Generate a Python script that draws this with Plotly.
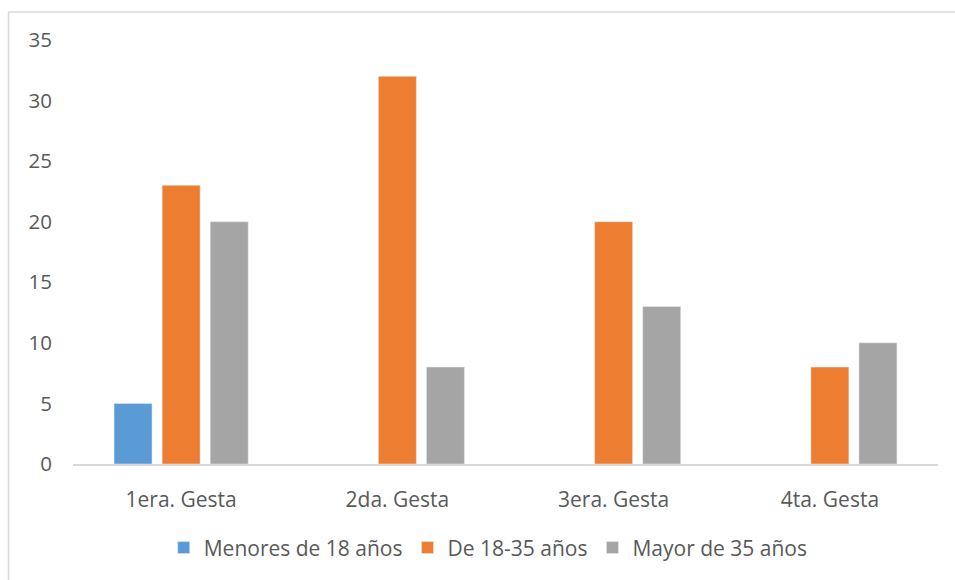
import plotly.graph_objects as go

categories = ["1era. Gesta", "2da. Gesta", "3era. Gesta", "4ta. Gesta"]
menores_18 = [5, None, None, None]
de_18_35 = [23, 32, 20, 8]
mayor_35 = [20, 8, 13, 10]
y_ticks = [0, 5, 10, 15, 20, 25, 30, 35]

FONT = "Open Sans"
TXT = "#595959"

fig = go.Figure()
fig.add_trace(go.Bar(name="Menores de 18 años", x=categories, y=menores_18, marker_color="#5B9BD5"))
fig.add_trace(go.Bar(name="De 18-35 años", x=categories, y=de_18_35, marker_color="#ED7D31"))
fig.add_trace(go.Bar(name="Mayor de 35 años", x=categories, y=mayor_35, marker_color="#A5A5A5"))

L, R, T, B = 73, 17, 40, 116
W, H = 955, 580
pw, ph = W - L - R, H - T - B
bx = (8.5 - L) / pw
by = (H - B - 12) / ph

fig.update_layout(
    width=W, height=H,
    margin=dict(l=L, r=R, t=T, b=B),
    paper_bgcolor="white", plot_bgcolor="white",
    barmode="group", bargap=0.333, bargroupgap=0.21,
    font=dict(family=FONT, size=20, color=TXT),
    showlegend=True,
    legend=dict(orientation="h", x=0.48, xanchor="center", y=-0.198, yanchor="middle",
                font=dict(family=FONT, size=21, color=TXT), itemwidth=30,
                traceorder="normal"),
    xaxis=dict(showgrid=False, showline=True, linecolor="#D9D9D9", linewidth=1.5,
               ticks="", ticklabelstandoff=16, tickfont=dict(size=21, color=TXT)),
    yaxis=dict(range=[0, 35], tickvals=y_ticks, showgrid=False, showline=False,
               zeroline=False, ticks="", ticklabelstandoff=20,
               tickfont=dict(size=20.5, color=TXT)),
    shapes=[
        dict(type="line", xref="paper", yref="paper", x0=bx, x1=bx, y0=-2, y1=by,
             line=dict(color="#D9D9D9", width=1.5)),
        dict(type="line", xref="paper", yref="paper", x0=bx, x1=2, y0=by, y1=by,
             line=dict(color="#D9D9D9", width=1.5)),
    ],
)

fig.write_html("out.html")
